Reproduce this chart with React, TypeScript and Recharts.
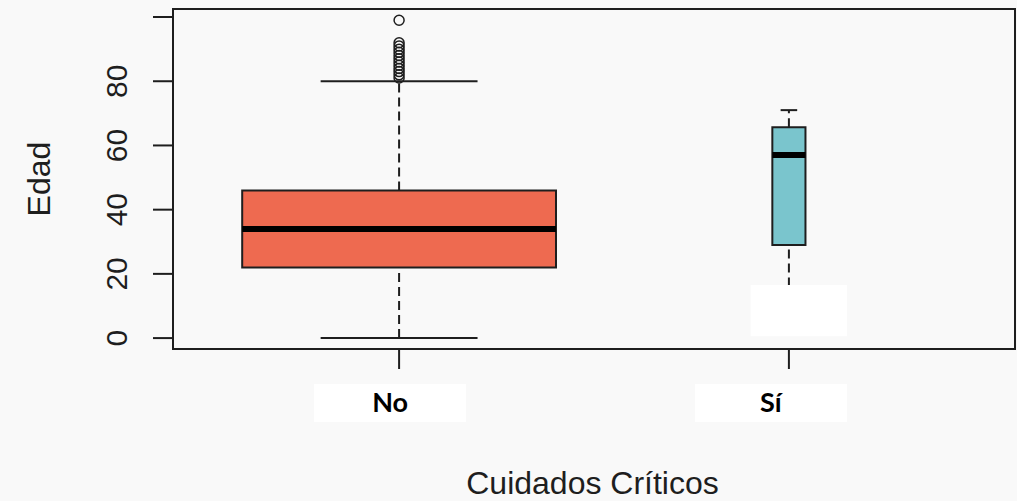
import React from "react";
import {
	ComposedChart,
	XAxis,
	YAxis,
	Scatter,
	ReferenceArea,
	ReferenceLine,
} from "recharts";

// groups on the x axis
const groups = ["No", "Sí"];
const groupPos = [1, 2];

// box statistics per group (Edad)
const lowerWhisker = [0, 3];
const q1 = [22, 29];
const medians = [34, 57];
const q3 = [46, 65.7];
const upperWhisker = [80, 71];

// outliers (only "No" has them)
const outliersNo = [81, 82, 83, 84, 85, 86, 87, 88, 89, 90, 91, 92, 99];

const yTicks = [0, 20, 40, 60, 80, 100];
const yTickLabels = ["0", "20", "40", "60", "80", ""];

// layout / style
const W = 1017;
const H = 501;
const X_DOMAIN: [number, number] = [0.42, 2.58];
const Y_DOMAIN: [number, number] = [-3.4, 102.5];
const boxWidths = [0.805, 0.085];
const boxFills = ["#EE6A50", "#7AC5CD"];
const labelBoxOffsets = [-9, -18];
const INK = "#1e1e1e";
const FONT = '"Liberation Sans", Arial, sans-serif';

const outlierData = outliersNo.map(v => ({ x: groupPos[0], y: v }));

function YTick(props: any) {
	const { x, y, payload, index } = props;
	const label = yTickLabels[index] ?? String(payload.value);
	if (!label) return null;
	const bx = x - 24;
	return (
		<text
			x={bx}
			y={y}
			transform={`rotate(-90, ${bx}, ${y})`}
			textAnchor="middle"
			fontSize={30}
			fontFamily={FONT}
			fill={INK}
		>
			{label}
		</text>
	);
}

function XTick(props: any) {
	const { x, y, index } = props;
	const cx = x + labelBoxOffsets[index];
	return (
		<g>
			<rect x={cx - 76} y={y + 13} width={152} height={38} fill="#ffffff" />
			<text
				x={cx}
				y={y + 41}
				textAnchor="middle"
				fontSize={27}
				fontWeight="bold"
				fontFamily='Lato, "Liberation Sans", sans-serif'
				fill="#000"
			>
				{groups[index]}
			</text>
		</g>
	);
}

function XTitle(props: any) {
	const vb = props.viewBox;
	return (
		<text
			x={vb.x + vb.width / 2 - 1.5}
			y={vb.y + 145}
			textAnchor="middle"
			fontSize={32}
			fontFamily={FONT}
			fill={INK}
		>
			Cuidados Críticos
		</text>
	);
}

function YTitle(props: any) {
	const vb = props.viewBox;
	const cy = vb.y + vb.height / 2;
	return (
		<text
			x={50}
			y={cy}
			transform={`rotate(-90, 50, ${cy})`}
			textAnchor="middle"
			fontSize={32}
			fontFamily={FONT}
			fill={INK}
		>
			Edad
		</text>
	);
}

const circleShape = (p: any) => (
	<circle cx={p.cx} cy={p.cy} r={5} fill="none" stroke={INK} strokeWidth={1.5} />
);

export default function App() {
	return (
		<div
			style={{
				position: "absolute",
				left: 0,
				top: 0,
				width: W,
				height: H,
				background: "#f9f9f9",
			}}
		>
			<ComposedChart
				width={W}
				height={H}
				margin={{ top: 9, right: 2, bottom: 0, left: 0 }}
			>
				<XAxis
					type="number"
					dataKey="x"
					domain={X_DOMAIN}
					allowDataOverflow
					ticks={groupPos}
					interval={0}
					tickSize={20}
					axisLine={false}
					tickLine={{ stroke: INK, strokeWidth: 2 }}
					tick={<XTick />}
					height={152}
					label={<XTitle />}
				/>
				<YAxis
					type="number"
					dataKey="y"
					domain={Y_DOMAIN}
					allowDataOverflow
					ticks={yTicks}
					interval={0}
					tickSize={20}
					axisLine={false}
					tickLine={{ stroke: INK, strokeWidth: 2 }}
					tick={<YTick />}
					width={173}
					label={<YTitle />}
				/>

				{/* plot frame */}
				<ReferenceArea
					x1={X_DOMAIN[0]}
					x2={X_DOMAIN[1]}
					y1={Y_DOMAIN[0]}
					y2={Y_DOMAIN[1]}
					fill="none"
					fillOpacity={0}
					stroke={INK}
					strokeWidth={2}
					ifOverflow="visible"
				/>

				{groupPos.map((pos, i) => {
					const half = boxWidths[i] / 2;
					const cap = boxWidths[i] / 4;
					return (
						<React.Fragment key={groups[i]}>
							<ReferenceLine
								segment={[
									{ x: pos, y: lowerWhisker[i] },
									{ x: pos, y: q1[i] },
								]}
								stroke={INK}
								strokeWidth={2}
								strokeDasharray="9 5"
							/>
							<ReferenceLine
								segment={[
									{ x: pos, y: q3[i] },
									{ x: pos, y: upperWhisker[i] },
								]}
								stroke={INK}
								strokeWidth={2}
								strokeDasharray="9 5"
							/>
							<ReferenceLine
								segment={[
									{ x: pos - cap, y: lowerWhisker[i] },
									{ x: pos + cap, y: lowerWhisker[i] },
								]}
								stroke={INK}
								strokeWidth={2}
							/>
							<ReferenceLine
								segment={[
									{ x: pos - cap, y: upperWhisker[i] },
									{ x: pos + cap, y: upperWhisker[i] },
								]}
								stroke={INK}
								strokeWidth={2}
							/>
							<ReferenceArea
								x1={pos - half}
								x2={pos + half}
								y1={q1[i]}
								y2={q3[i]}
								fill={boxFills[i]}
								fillOpacity={1}
								stroke={INK}
								strokeWidth={2}
							/>
							<ReferenceLine
								segment={[
									{ x: pos - half, y: medians[i] },
									{ x: pos + half, y: medians[i] },
								]}
								stroke="#000"
								strokeWidth={6}
							/>
						</React.Fragment>
					);
				})}

				<Scatter
					data={outlierData}
					dataKey="y"
					shape={circleShape}
					isAnimationActive={false}
				/>

				{/* white patch covering the lower end of the "Sí" whisker */}
				<ReferenceArea
					x1={1.902}
					x2={2.149}
					y1={0.6}
					y2={16.5}
					fill="#ffffff"
					fillOpacity={1}
					stroke="none"
					zIndex={900}
				/>
			</ComposedChart>
		</div>
	);
}
